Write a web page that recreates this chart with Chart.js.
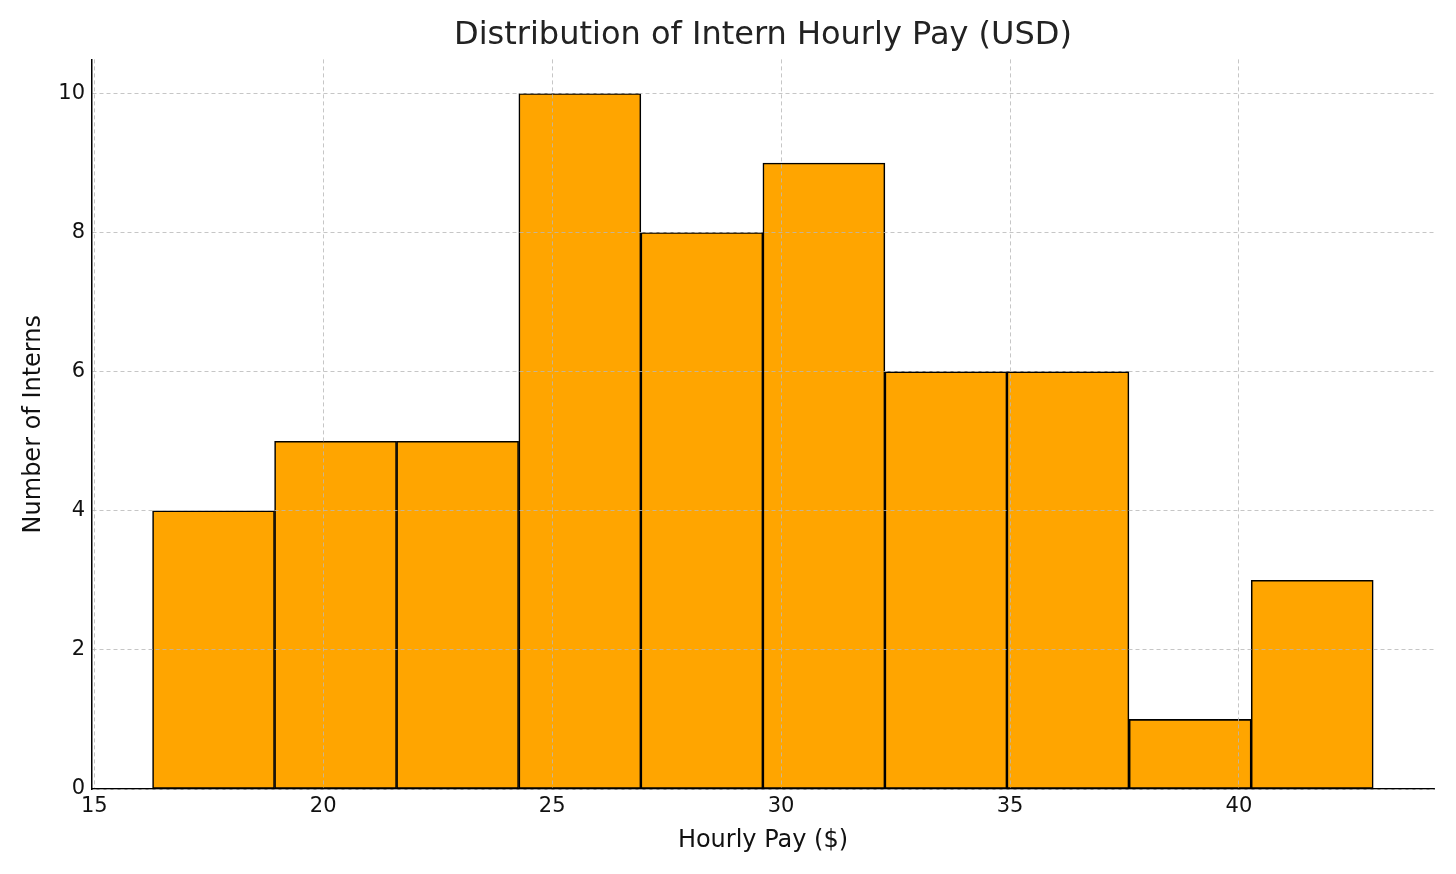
<!DOCTYPE html>
<html>
<head>
<meta charset="utf-8">
<script src="https://cdn.jsdelivr.net/npm/chart.js@4"></script>
<style>
  html, body { margin: 0; padding: 0; background: #fff; }
  #wrap { width: 1456px; height: 874px; }
</style>
</head>
<body>
<div id="wrap"><canvas id="hist" width="1456" height="874"></canvas></div>
<script>
// histogram bins
const binEdges = [16.27, 18.94, 21.60, 24.27, 26.94, 29.60, 32.27, 34.93, 37.60, 40.27, 42.93];
const counts = [4, 5, 5, 10, 8, 9, 6, 6, 1, 3];
const xTicks = [15, 20, 25, 30, 35, 40];
const yTicks = [0, 2, 4, 6, 8, 10];

// bar centres from the bin edges
const points = counts.map((c, i) => ({ x: (binEdges[i] + binEdges[i + 1]) / 2, y: c }));

const font = "'DejaVu Sans', sans-serif";
const gridColor = '#b8b8b8';

new Chart(document.getElementById('hist').getContext('2d'), {
    type: 'bar',
    data: {
        datasets: [{
            label: 'Interns',
            data: points,
            backgroundColor: '#FFA500',
            borderColor: '#000000',
            borderWidth: 1.6,
            barPercentage: 1.0,
            categoryPercentage: 1.0,
            borderSkipped: false
        }]
    },
    options: {
        responsive: false,
        animation: false,
        layout: { padding: { left: 0, right: 22, top: 0, bottom: 0 } },
        plugins: {
            legend: { display: false },
            tooltip: { enabled: false },
            title: {
                display: true,
                fullSize: false,
                text: 'Distribution of Intern Hourly Pay (USD)',
                color: '#222',
                font: { family: font, size: 32, weight: 'normal' },
                padding: { top: 16, bottom: 5 }
            }
        },
        scales: {
            x: {
                type: 'linear',
                offset: false,
                min: 14.95,
                max: 44.26,
                afterBuildTicks: s => { s.ticks = xTicks.map(v => ({ value: v })); },
                ticks: {
                    color: '#111',
                    font: { family: font, size: 21 },
                    padding: 5,
                    maxRotation: 0
                },
                grid: { color: gridColor, lineWidth: 0.8, drawTicks: false, offset: false, z: 1 },
                border: { display: true, color: '#000', width: 1.5, dash: [4, 3], z: 1 },
                title: {
                    display: true,
                    text: 'Hourly Pay ($)',
                    color: '#111',
                    font: { family: font, size: 24 },
                    padding: { top: 6, bottom: 19 }
                },
                afterFit: s => { s.height = 85; }
            },
            y: {
                min: 0,
                max: 10.49,
                afterBuildTicks: s => { s.ticks = yTicks.map(v => ({ value: v })); },
                ticks: {
                    color: '#111',
                    font: { family: font, size: 21 },
                    padding: 7
                },
                grid: { color: gridColor, lineWidth: 0.8, drawTicks: false, z: 1 },
                border: { display: true, color: '#000', width: 1.5, dash: [4, 3], z: 1 },
                title: {
                    display: true,
                    text: 'Number of Interns',
                    color: '#111',
                    font: { family: font, size: 24 },
                    padding: { top: 19, bottom: 14 }
                },
                afterFit: s => { s.width = 92; }
            }
        }
    }
});
</script>
</body>
</html>
